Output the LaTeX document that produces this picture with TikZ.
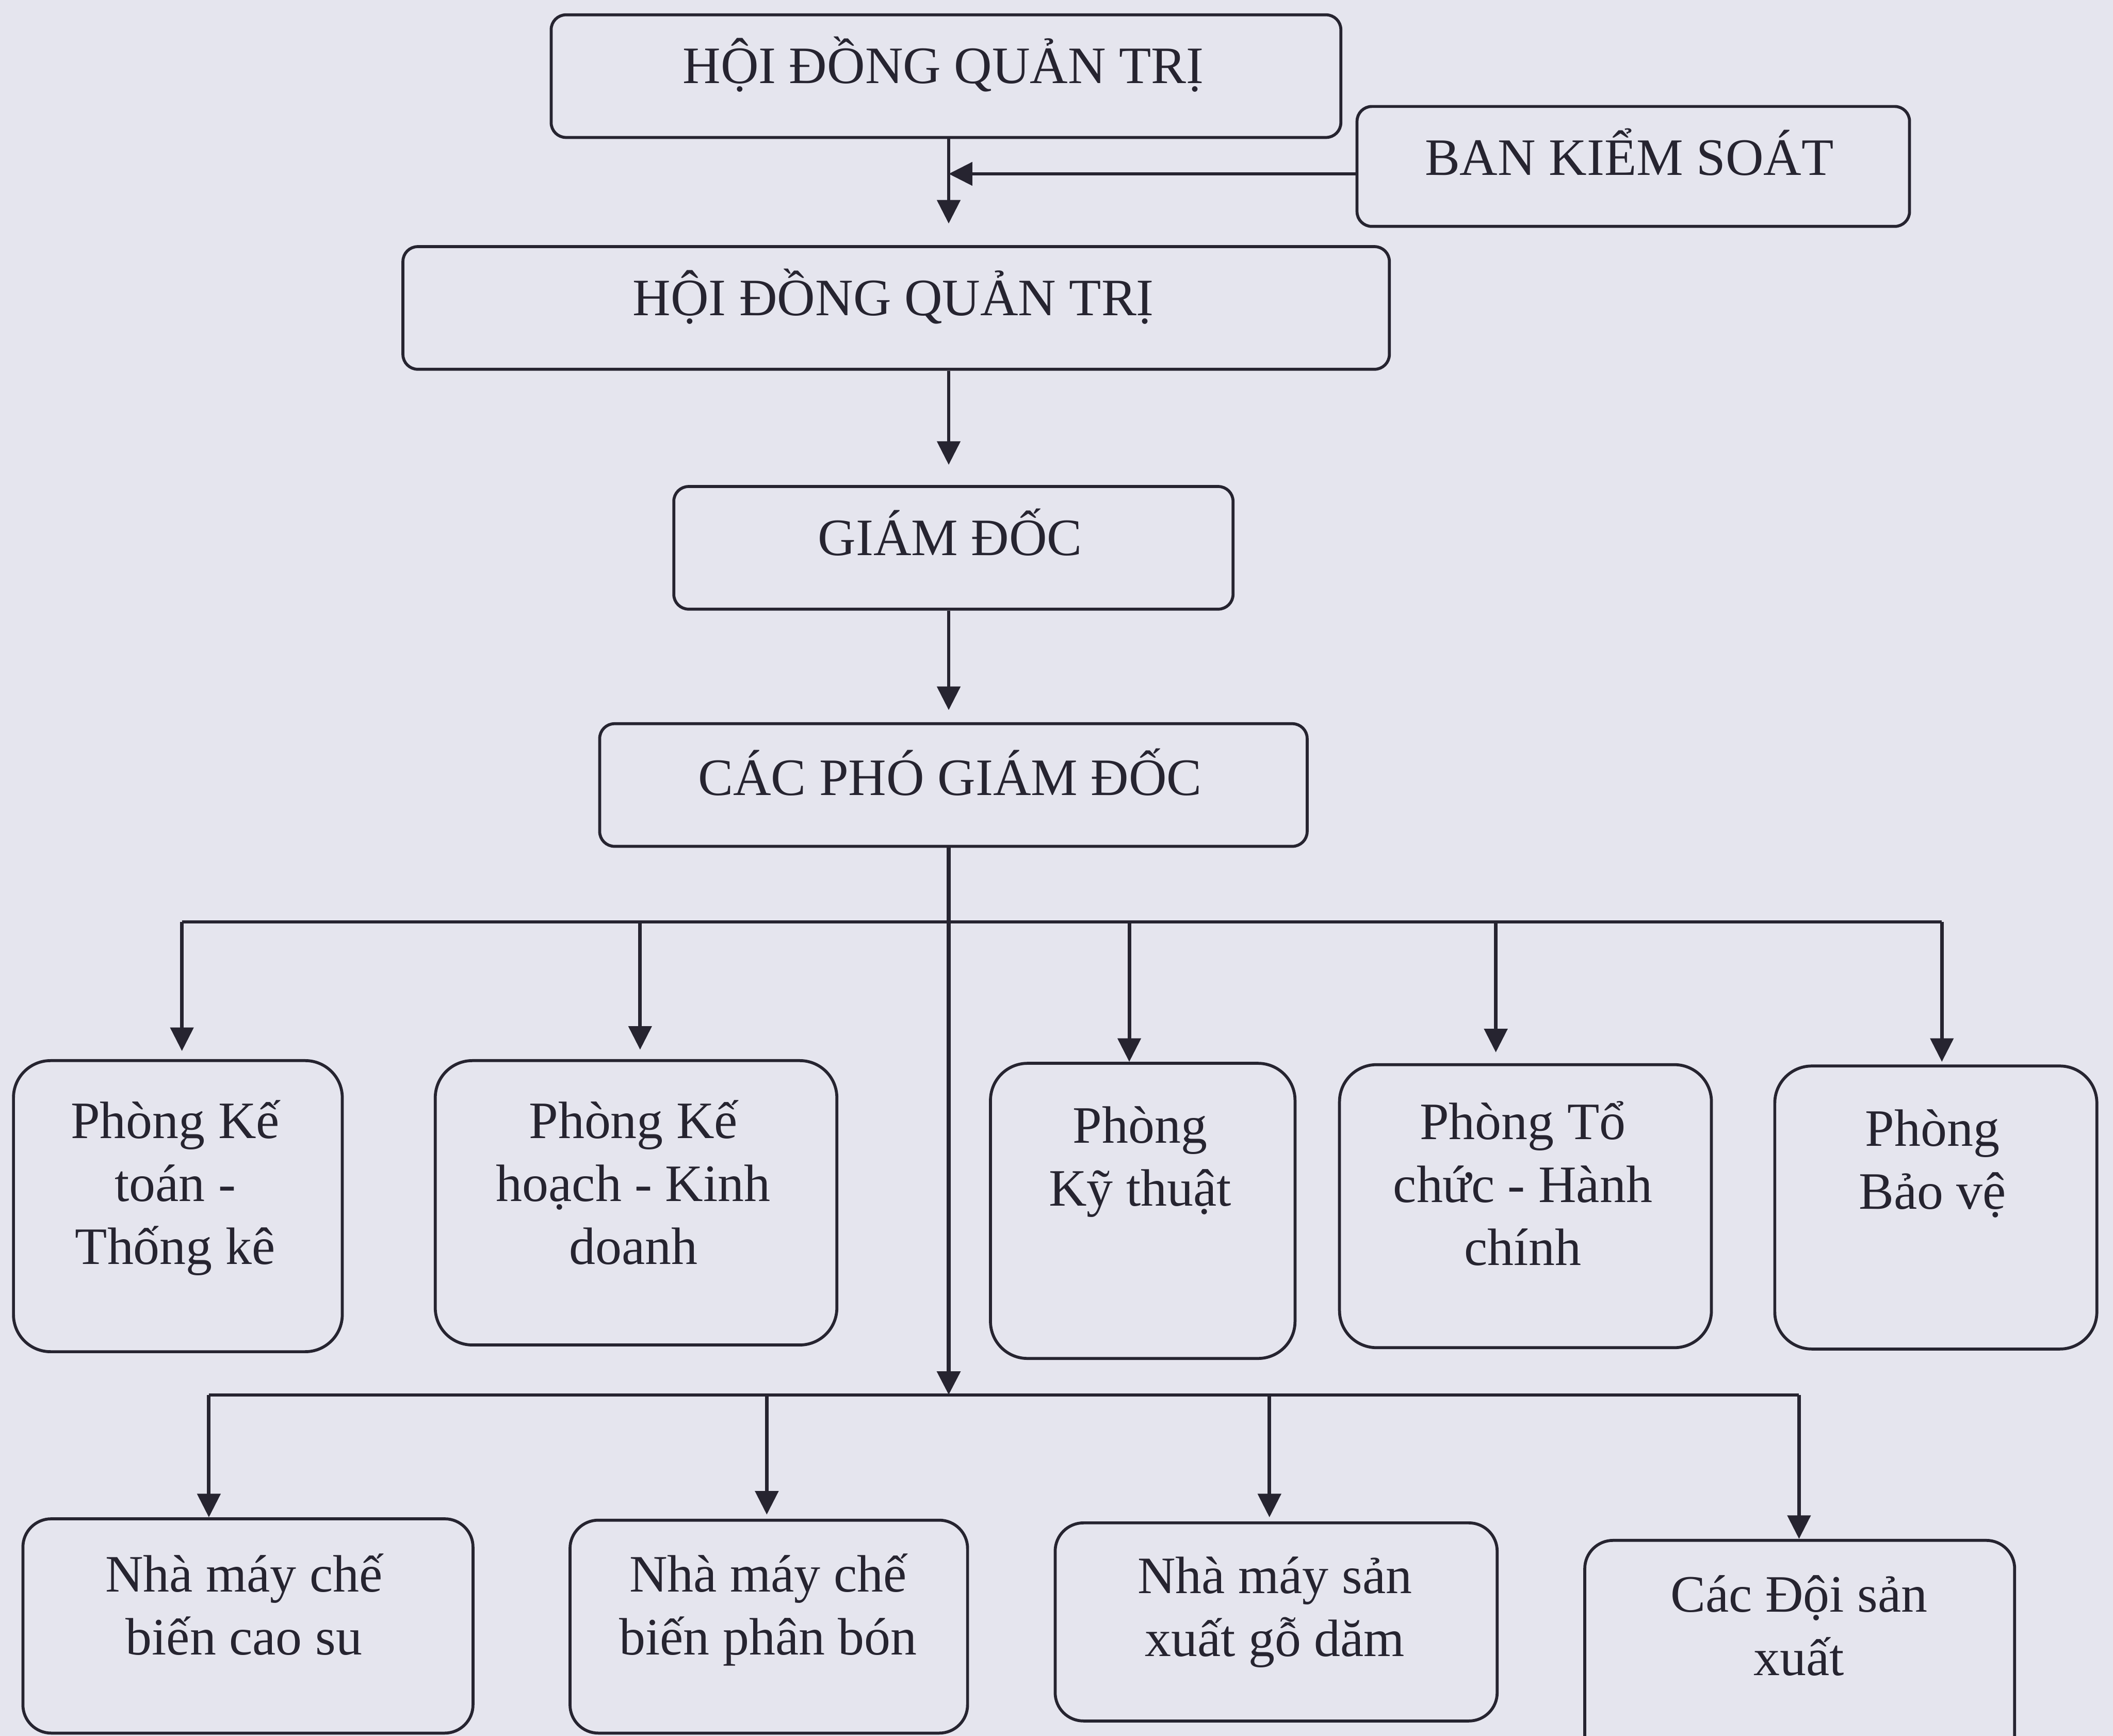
\documentclass[tikz,border=0pt]{standalone}
\usepackage{fontspec}
\setmainfont{Liberation Serif}
\usetikzlibrary{arrows.meta,fit}
\definecolor{paper}{RGB}{229,229,238}
\definecolor{ink}{RGB}{38,36,48}
\begin{document}
\begin{tikzpicture}[x=0.02cm, y=-0.02cm,
  boxbase/.style={draw=ink, line width=1.25pt, inner sep=0pt},
  topbox/.style={boxbase, rounded corners=0.22cm},
  deptbox/.style={boxbase, rounded corners=0.55cm},
  unitbox/.style={boxbase, rounded corners=0.42cm},
  txt/.style={text=ink, anchor=base, inner sep=0pt, align=center,
    font=\fontsize{22.2}{26.6}\selectfont},
  conn/.style={draw=ink, line width=1.5pt, line join=miter,
    -{Triangle[length=0.35cm, width=0.34cm]}},
  trunk/.style={conn, line width=1.9pt},
  busline/.style={draw=ink, line width=1.3pt}]

\fill[paper] (0,0) rectangle (1568,1288);
\clip (0,0) rectangle (1568,1288);

% ---------- boxes ----------
\node[topbox, fit={(409,11) (995,102)}] (hdqt1) {};
\node[topbox, fit={(1007,79) (1417,168)}] (bks) {};
\node[topbox, fit={(299,183) (1031,274)}] (hdqt2) {};
\node[topbox, fit={(500,361) (915,452)}] (gd) {};
\node[topbox, fit={(445,537) (970,628)}] (cpgd) {};

\node[deptbox, fit={(10,787) (254,1003)}] (ketoan) {};
\node[deptbox, fit={(323,787) (621,998)}] (kehoach) {};
\node[deptbox, fit={(735,789) (961,1008)}] (kythuat) {};
\node[deptbox, fit={(994,790) (1270,1000)}] (tochuc) {};
\node[deptbox, fit={(1317,791) (1556,1001)}] (baove) {};

\node[unitbox, fit={(17,1127) (351,1286)}] (caosu) {};
\node[unitbox, fit={(423,1128) (718,1286)}] (phanbon) {};
\node[unitbox, fit={(783,1130) (1111,1277)}] (godam) {};
\node[unitbox, fit={(1176,1143) (1495,1320)}] (doisx) {};

% ---------- texts (anchor = baseline of the last line) ----------
\node[txt] (hdqt1-t) at (700,62) {HỘI ĐỒNG QUẢN TRỊ};
\node[txt] (bks-t) at (1209,130) {BAN KIỂM SOÁT};
\node[txt] (hdqt2-t) at (663,234) {HỘI ĐỒNG QUẢN TRỊ};
\node[txt] (gd-t) at (705,412) {GIÁM ĐỐC};
\node[txt] (cpgd-t) at (705,590) {CÁC PHÓ GIÁM ĐỐC};

\node[txt] (ketoan-t) at (130,938) {Phòng Kế\\toán -\\Thống kê};
\node[txt] (kehoach-t) at (470,938) {Phòng Kế\\hoạch - Kinh\\doanh};
\node[txt] (kythuat-t) at (846,895) {Phòng\\Kỹ thuật};
\node[txt] (tochuc-t) at (1130,939) {Phòng Tổ\\chức - Hành\\chính};
\node[txt] (baove-t) at (1434,897) {Phòng\\Bảo vệ};

\node[txt] (caosu-t) at (181,1228) {Nhà máy chế\\biến cao su};
\node[txt] (phanbon-t) at (570,1228) {Nhà máy chế\\biến phân bón};
\node[txt] (godam-t) at (946,1229) {Nhà máy sản\\xuất gỗ dăm};
\node[txt] (doisx-t) at (1335,1243) {Các Đội sản\\xuất};

% ---------- junction coordinates ----------
\coordinate (tx) at (704,0);
\coordinate (bksj) at (704,129);
\coordinate (b1M) at (704,684);
\coordinate (b1L) at (135,684);
\coordinate (b1R) at (1441,684);
\coordinate (b1a) at (475,684);
\coordinate (b1b) at (838,684);
\coordinate (b1c) at (1110,684);
\coordinate (b2M) at (704,1035);
\coordinate (b2L) at (155,1035);
\coordinate (b2R) at (1335,1035);
\coordinate (b2a) at (569,1035);
\coordinate (b2b) at (942,1035);

% ---------- connectors ----------
\draw[conn, shorten >=0.32cm] (hdqt1.south -| tx) -- (hdqt2.north -| tx);
\draw[conn] (bks.west |- bksj) -- (bksj);
\draw[conn, shorten >=0.3cm] (hdqt2.south -| tx) -- (gd.north -| tx);
\draw[conn, shorten >=0.18cm] (gd.south -| tx) -- (cpgd.north -| tx);
\draw[trunk] (cpgd.south -| tx) -- (b2M);

% upper bus
\draw[busline] (b1L) -- (b1R);
\draw[conn, shorten >=0.12cm] (b1L) -- (ketoan.north -| b1L);
\draw[conn, shorten >=0.14cm] (b1a) -- (kehoach.north -| b1a);
\draw[conn] (b1b) -- (kythuat.north -| b1b);
\draw[conn, shorten >=0.16cm] (b1c) -- (tochuc.north -| b1c);
\draw[conn, shorten >=0.04cm] (b1R) -- (baove.north -| b1R);

% lower bus
\draw[busline] (b2L) -- (b2R);
\draw[conn] (b2L) -- (caosu.north -| b2L);
\draw[conn, shorten >=0.06cm] (b2a) -- (phanbon.north -| b2a);
\draw[conn, shorten >=0.06cm] (b2b) -- (godam.north -| b2b);
\draw[conn] (b2R) -- (doisx.north -| b2R);
\end{tikzpicture}
\end{document}
